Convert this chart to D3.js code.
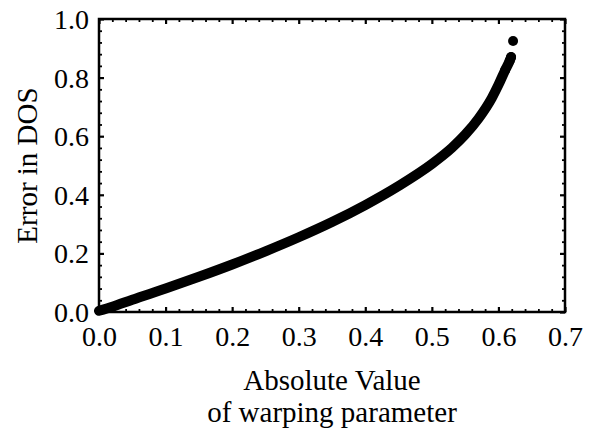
<!DOCTYPE html>
<html>
<head>
<meta charset="utf-8">
<script src="https://cdn.jsdelivr.net/npm/d3@7"></script>
<style>
  html, body { margin: 0; padding: 0; background: #fff; }
  svg { display: block; }
  text { font-family: "Liberation Serif", "Times New Roman", serif; fill: #000; }
</style>
</head>
<body>
<svg id="chart" width="591" height="437"></svg>
<script>
// ---- data ----
const curveX = [0.000, 0.020, 0.050, 0.100, 0.150, 0.200, 0.250, 0.300, 0.350, 0.400, 0.450, 0.500, 0.530, 0.550, 0.570, 0.590, 0.600, 0.610, 0.617, 0.619];
const curveY = [0.004, 0.018, 0.042, 0.080, 0.120, 0.162, 0.207, 0.255, 0.307, 0.365, 0.430, 0.505, 0.560, 0.605, 0.660, 0.730, 0.775, 0.825, 0.858, 0.870];
const outlierX = [0.622];
const outlierY = [0.925];
const xTicks = [0.0, 0.1, 0.2, 0.3, 0.4, 0.5, 0.6, 0.7];
const yTicks = [0.0, 0.2, 0.4, 0.6, 0.8, 1.0];
const xTitle = ["Absolute Value", "of warping parameter"];
const yTitle = "Error in DOS";

// ---- layout ----
const W = 591, H = 437;
const m = { left: 99, right: 26, top: 19, bottom: 125 };
const iw = W - m.left - m.right, ih = H - m.top - m.bottom;

const svg = d3.select("#chart");
const g = svg.append("g").attr("transform", `translate(${m.left},${m.top})`);

const x = d3.scaleLinear().domain([0, 0.7]).range([0, iw]);
const y = d3.scaleLinear().domain([0, 1.0]).range([ih, 0]);

const xMinor = d3.range(0, 0.7001, 0.02).filter(v => Math.abs(v * 10 - Math.round(v * 10)) > 1e-6);
const yMinor = d3.range(0, 1.0001, 0.04).filter(v => Math.abs(v * 5 - Math.round(v * 5)) > 1e-6);

function styleAxis(sel, width) {
  sel.select(".domain").remove();
  sel.selectAll(".tick line").attr("stroke", "#000").attr("stroke-width", width);
}

const fs = 28;
g.append("g").attr("transform", `translate(0,${ih})`)
  .call(d3.axisBottom(x).tickValues(xTicks).tickSize(-5).tickPadding(14).tickFormat(d3.format(".1f")))
  .call(s => { styleAxis(s, 2.2); s.selectAll("text").attr("font-size", fs).attr("font-family", "Liberation Serif"); });
g.append("g")
  .call(d3.axisLeft(y).tickValues(yTicks).tickSize(-5).tickPadding(10).tickFormat(d3.format(".1f")))
  .call(s => { styleAxis(s, 2.2); s.selectAll("text").attr("font-size", fs).attr("font-family", "Liberation Serif").attr("dy", "0.34em"); });
g.append("g")
  .call(d3.axisTop(x).tickValues(xTicks).tickSize(-5).tickFormat(""))
  .call(s => styleAxis(s, 2.2));
g.append("g").attr("transform", `translate(${iw},0)`)
  .call(d3.axisRight(y).tickValues(yTicks).tickSize(-5).tickFormat(""))
  .call(s => styleAxis(s, 2.2));

// minor ticks
g.append("g").attr("transform", `translate(0,${ih})`)
  .call(d3.axisBottom(x).tickValues(xMinor).tickSize(-3).tickFormat(""))
  .call(s => styleAxis(s, 1.8));
g.append("g")
  .call(d3.axisTop(x).tickValues(xMinor).tickSize(-3).tickFormat(""))
  .call(s => styleAxis(s, 1.8));
g.append("g")
  .call(d3.axisLeft(y).tickValues(yMinor).tickSize(-3).tickFormat(""))
  .call(s => styleAxis(s, 1.8));
g.append("g").attr("transform", `translate(${iw},0)`)
  .call(d3.axisRight(y).tickValues(yMinor).tickSize(-3).tickFormat(""))
  .call(s => styleAxis(s, 1.8));

// frame
g.append("rect").attr("x", 0).attr("y", 0).attr("width", iw).attr("height", ih)
  .attr("fill", "none").attr("stroke", "#000").attr("stroke-width", 2.5);

// curve (dense points forming a thick band)
const pts = curveX.map((v, i) => [v, curveY[i]]);
const line = d3.line().x(d => x(d[0])).y(d => y(d[1])).curve(d3.curveMonotoneX);
g.append("path").datum(pts).attr("d", line)
  .attr("fill", "none").attr("stroke", "#000").attr("stroke-width", 10)
  .attr("stroke-linecap", "round").attr("stroke-linejoin", "round");
g.selectAll("circle.pt").data(pts.slice(-3)).enter().append("circle")
  .attr("class", "pt").attr("cx", d => x(d[0])).attr("cy", d => y(d[1])).attr("r", 5).attr("fill", "#000");
g.selectAll("circle.out").data(outlierX.map((v, i) => [v, outlierY[i]])).enter().append("circle")
  .attr("class", "out").attr("cx", d => x(d[0])).attr("cy", d => y(d[1])).attr("r", 5).attr("fill", "#000");

// titles
svg.append("text").attr("x", m.left + iw / 2).attr("y", 390).attr("text-anchor", "middle")
  .attr("font-size", 29).text(xTitle[0]);
svg.append("text").attr("x", m.left + iw / 2).attr("y", 422).attr("text-anchor", "middle")
  .attr("font-size", 29).text(xTitle[1]);
svg.append("text").attr("transform", `translate(37,${m.top + ih / 2}) rotate(-90)`)
  .attr("text-anchor", "middle").attr("font-size", 29).text(yTitle);
</script>
</body>
</html>
